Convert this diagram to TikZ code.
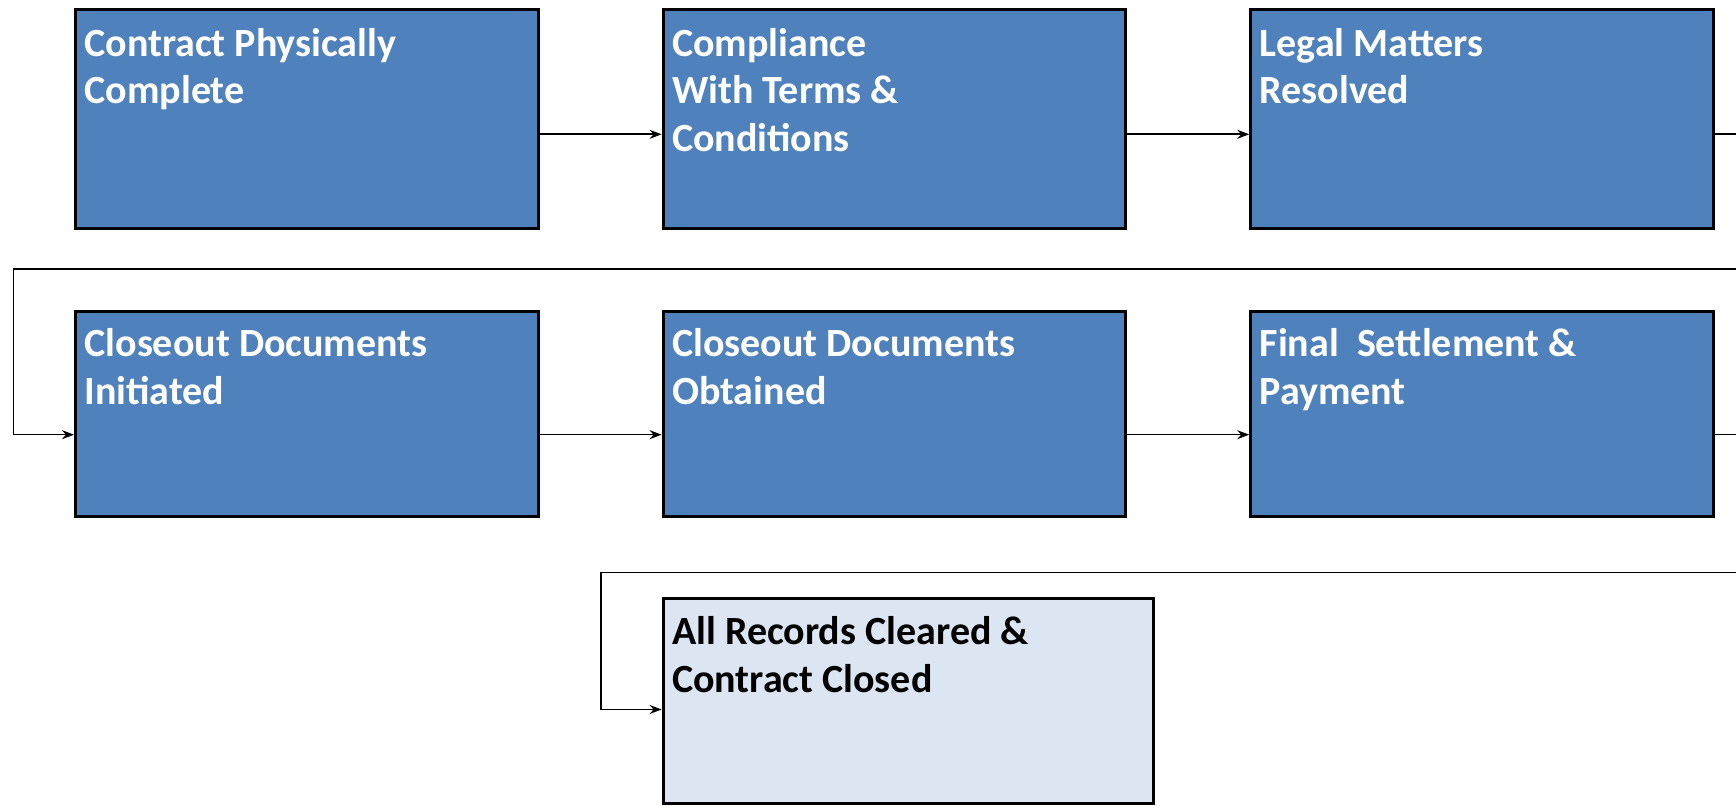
\documentclass[tikz,border=0pt]{standalone}
\usepackage{fontspec}
\setmainfont{Carlito}
\usetikzlibrary{positioning,arrows.meta}

\definecolor{stageblue}{HTML}{4F81BD}
\definecolor{closedblue}{HTML}{DCE6F2}

% text block sitting at the top left of a stage box
\newcommand{\stagetext}[4]{\parbox[t][#2][t]{#1}{\rule{0pt}{#3}#4}}

\begin{document}
\begin{tikzpicture}[node distance=61pt,stage/.style={draw=black, line width=1.5pt, fill=stageblue, text=white, inner xsep=4.5pt, inner ysep=0pt, font=\bfseries\fontsize{20}{23.8}\selectfont},closed/.style={stage, fill=closedblue, text=black},conn/.style={line width=0.8pt, -{Stealth[length=6pt,width=4.5pt,inset=2pt]}}]
\useasboundingbox (0,0) rectangle (868pt,-403pt);
% first row
\node[stage, anchor=north west] (phys) at (37pt,-3.85pt) {\stagetext{222.3pt}{109.5pt}{23.6pt}{Contract Physically\\Complete}};
\node[stage, right=of phys] (terms) {\stagetext{222.3pt}{109.5pt}{23.6pt}{Compliance\\With Terms \&\\Conditions}};
\node[stage, right=of terms] (legal) {\stagetext{222.3pt}{109.5pt}{23.6pt}{Legal Matters\\Resolved}};
% second row
\node[stage, anchor=north west] (initiated) at ([yshift=-40.3pt]phys.south west) {\stagetext{222.3pt}{102.5pt}{22.5pt}{Closeout Documents\\Initiated}};
\node[stage, right=of initiated] (obtained) {\stagetext{222.3pt}{102.5pt}{22.5pt}{Closeout Documents\\Obtained}};
\node[stage, right=of obtained] (payment) {\stagetext{222.3pt}{102.5pt}{22.5pt}{Final\ \ Settlement \&\\Payment}};
% last box
\node[closed, anchor=north west] (closed) at ([yshift=-39.5pt]obtained.south west) {\stagetext{236pt}{102.5pt}{23pt}{All Records Cleared \&\\Contract Closed}};

\coordinate (back1) at (6.65pt,-134.5pt);
\coordinate (back2) at (300.5pt,-286.2pt);

\draw[conn] ([yshift=-7.8pt]phys.east) -- ([yshift=-7.8pt]terms.west);
\draw[conn] ([yshift=-7.8pt]terms.east) -- ([yshift=-7.8pt]legal.west);
\draw[conn] ([yshift=-7.8pt]legal.east) -- ++(16pt,0) |- (back1) |- ([yshift=-10.2pt]initiated.west);
\draw[conn] ([yshift=-10.2pt]initiated.east) -- ([yshift=-10.2pt]obtained.west);
\draw[conn] ([yshift=-10.2pt]obtained.east) -- ([yshift=-10.2pt]payment.west);
\draw[conn] ([yshift=-10.2pt]payment.east) -- ++(16pt,0) |- (back2) |- ([yshift=-4.1pt]closed.west);
\end{tikzpicture}
\end{document}
